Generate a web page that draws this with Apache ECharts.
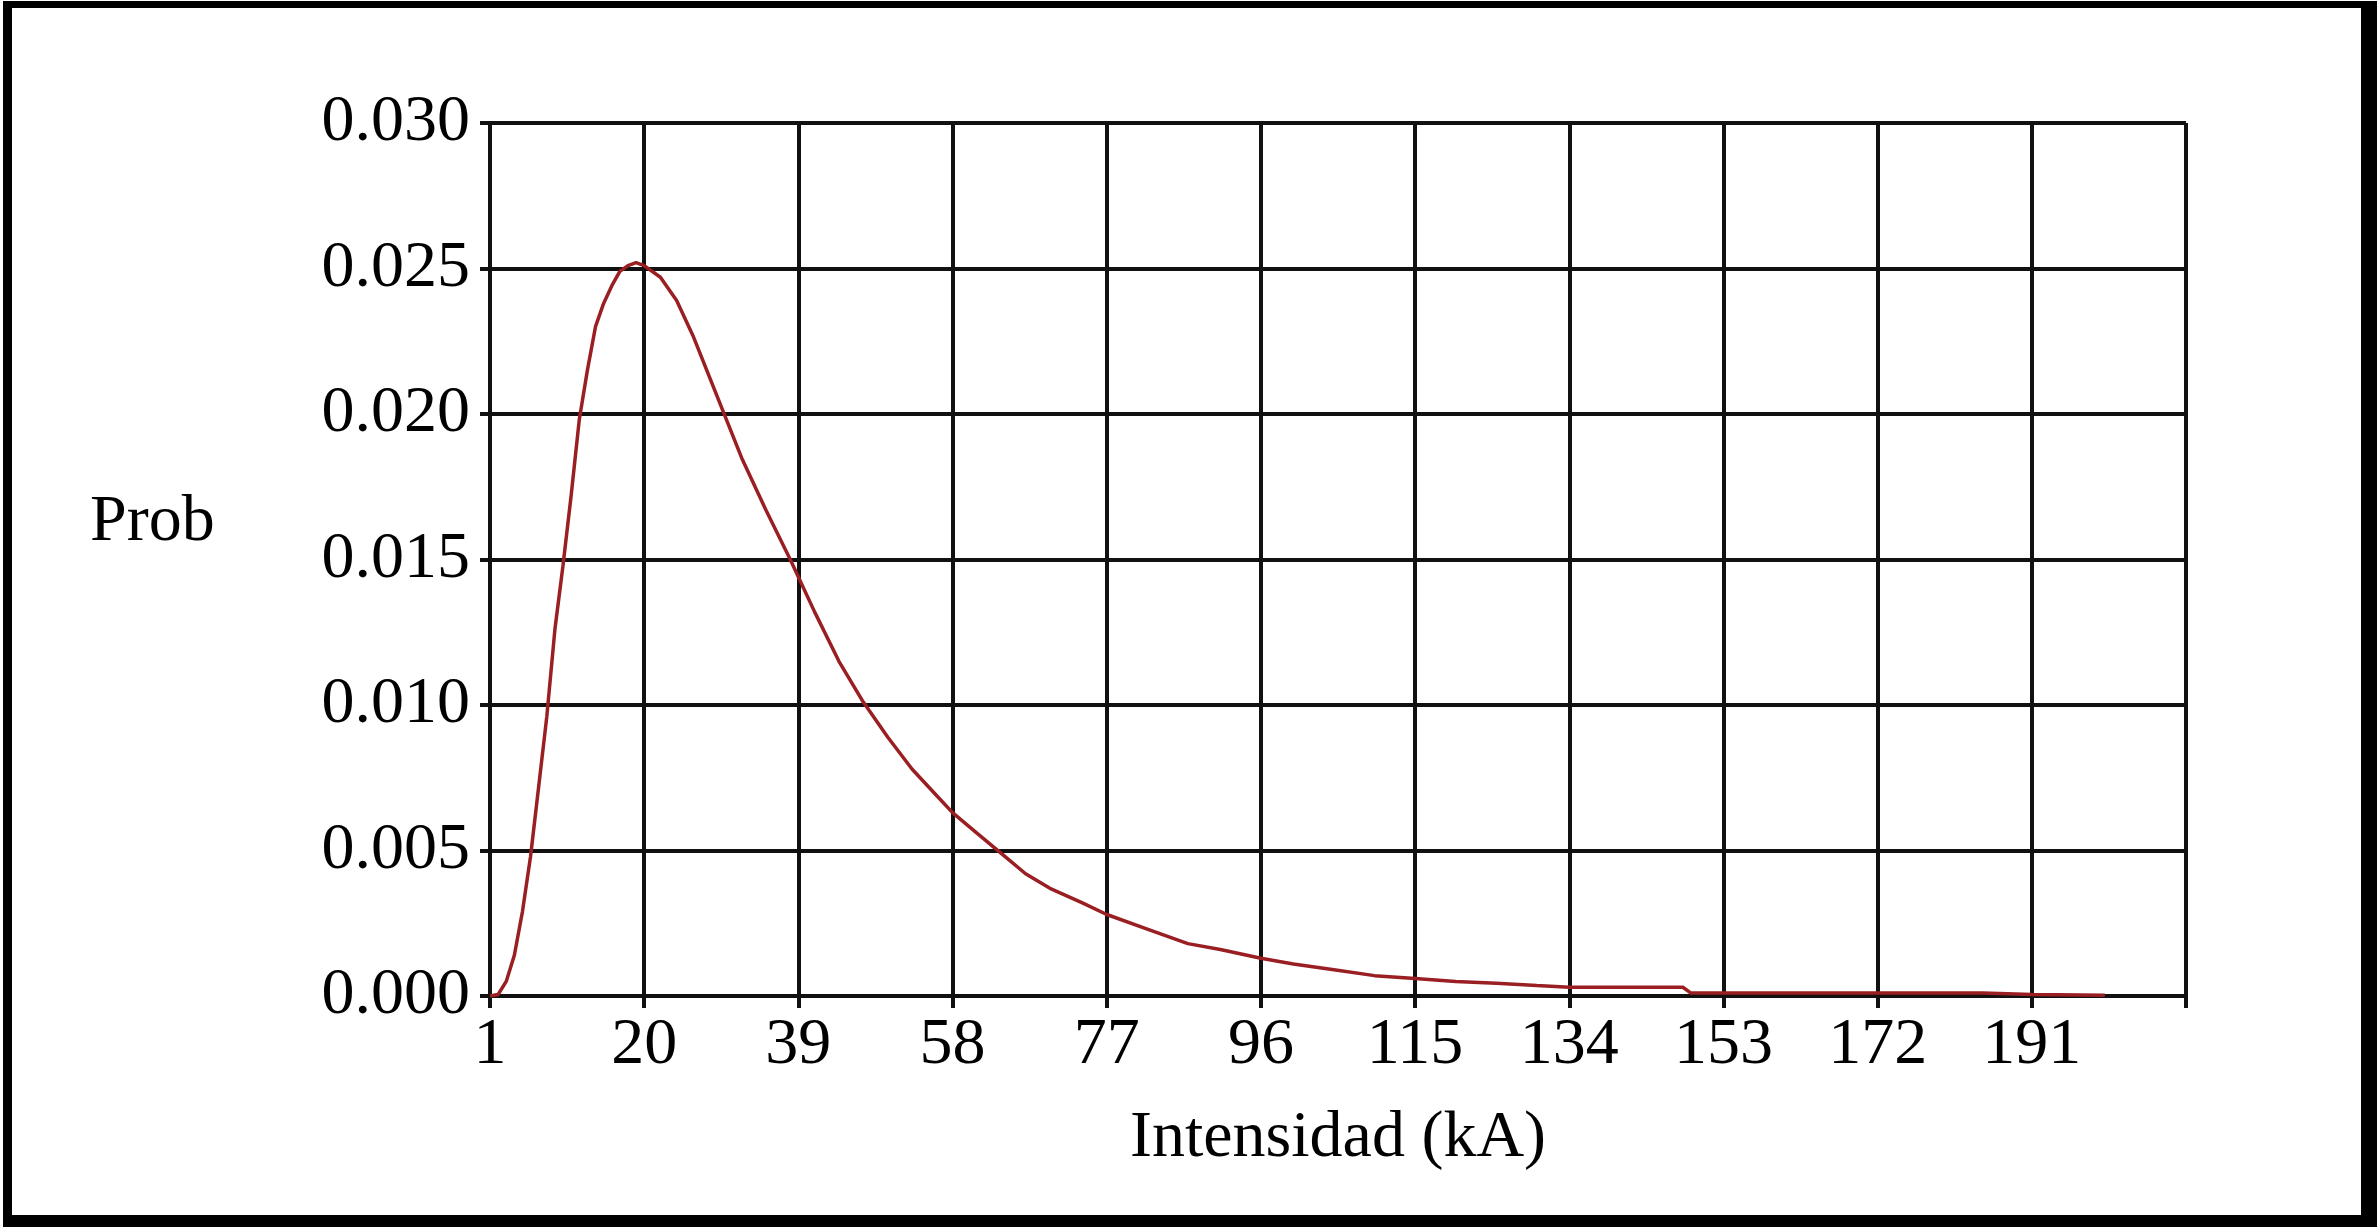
<!DOCTYPE html>
<html>
<head>
<meta charset="utf-8">
<title>Prob vs Intensidad</title>
<script src="https://cdn.jsdelivr.net/npm/echarts@6/dist/echarts.min.js"></script>
<style>
  html, body {
    margin: 0;
    padding: 0;
    background: #fff;
  }
  #chart {
    width: 2377px;
    height: 1227px;
  }
  .frame {
    position: absolute;
    left: 3px;
    top: 1px;
    right: 0;
    bottom: 0;
    border-style: solid;
    border-color: #000;
    border-width: 7px 16px 12px 9px;
    pointer-events: none;
  }
</style>
</head>
<body>
<div id="chart"></div>
<div class="frame"></div>
<script>
// current (kA) and probability
const intensidad = [1, 2, 3, 4, 5, 6, 7, 8, 9, 10, 11, 12, 13, 14, 15, 16, 17, 18, 19, 20,
  22, 24, 26, 28, 30, 32, 35, 38, 41, 44, 47, 50, 53, 56, 58, 61, 64, 67, 70, 74, 77,
  82, 87, 91, 96, 100, 105, 110, 115, 120, 125, 130, 134, 140, 148, 149, 160, 172, 185, 191, 200]
const prob = [0, 0.00005, 0.0005, 0.0014, 0.0029, 0.0048, 0.0072, 0.0096, 0.0126, 0.0148,
  0.0172, 0.0198, 0.0215, 0.0230, 0.0238, 0.0244, 0.0249, 0.0251, 0.0252, 0.0251,
  0.0247, 0.0239, 0.0227, 0.0213, 0.0199, 0.0185, 0.0167, 0.0150, 0.0132, 0.0115,
  0.0101, 0.0089, 0.0078, 0.0069, 0.0063, 0.0056, 0.0049, 0.0042, 0.0037, 0.0032, 0.0028,
  0.0023, 0.0018, 0.0016, 0.0013, 0.0011, 0.0009, 0.0007, 0.0006, 0.0005, 0.00044,
  0.00036, 0.0003, 0.0003, 0.0003, 0.0001, 0.0001, 0.0001, 0.0001, 0.00005, 0.00003]

const xTicks = [1, 20, 39, 58, 77, 96, 115, 134, 153, 172, 191]
const yTicks = ['0.000', '0.005', '0.010', '0.015', '0.020', '0.025', '0.030']

const font = '"Liberation Serif", "Times New Roman", serif'
const gridLine = { show: true, lineStyle: { color: '#111', width: 4 } }

const chart = echarts.init(document.getElementById('chart'))
chart.setOption({
  animation: false,
  backgroundColor: '#fff',
  grid: {
    left: 490,
    right: 191,
    top: 123,
    bottom: 231
  },
  graphic: [
    {
      type: 'text',
      left: 90,
      top: 490,
      style: {
        text: 'Prob',
        font: '66px ' + font,
        fill: '#000'
      }
    }
  ],
  xAxis: {
    type: 'value',
    min: 1,
    max: 210,
    interval: 19,
    name: 'Intensidad (kA)',
    nameLocation: 'middle',
    nameGap: 110,
    nameTextStyle: { fontFamily: font, fontSize: 66, color: '#000' },
    axisLine: { lineStyle: { color: '#111', width: 4 } },
    axisTick: { show: true, length: 12, lineStyle: { color: '#111', width: 4 } },
    axisLabel: {
      margin: 17,
      fontFamily: font,
      fontSize: 66,
      color: '#000',
      formatter: v => (xTicks.indexOf(v) >= 0 ? String(v) : '')
    },
    splitLine: gridLine
  },
  yAxis: {
    type: 'value',
    min: 0,
    max: 0.03,
    interval: 0.005,
    axisLine: { show: true, lineStyle: { color: '#111', width: 4 } },
    axisTick: { show: true, length: 10, lineStyle: { color: '#111', width: 4 } },
    axisLabel: {
      margin: 20,
      fontFamily: font,
      fontSize: 66,
      color: '#000',
      formatter: v => yTicks[Math.round(v / 0.005)]
    },
    splitLine: gridLine
  },
  series: [
    {
      type: 'line',
      data: intensidad.map((x, i) => [x, prob[i]]),
      showSymbol: false,
      smooth: false,
      lineStyle: { color: '#9a1f22', width: 3.5 },
      z: 5
    }
  ]
})
</script>
</body>
</html>
